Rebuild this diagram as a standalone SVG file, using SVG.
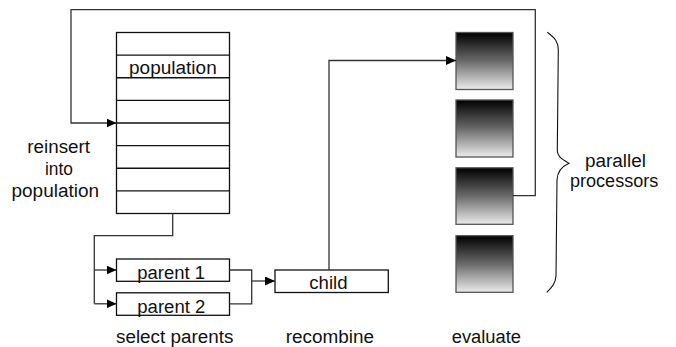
<svg xmlns="http://www.w3.org/2000/svg" width="676" height="347" viewBox="0 0 676 347">
<defs>
  <linearGradient id="proc" x1="0" y1="0" x2="0" y2="1">
    <stop offset="0" stop-color="#000"/>
    <stop offset="0.5" stop-color="#6a6a6a"/>
    <stop offset="1" stop-color="#ececec"/>
  </linearGradient>
  <marker id="arr" viewBox="0 0 10 9" refX="10" refY="4.5" markerWidth="10" markerHeight="9" markerUnits="userSpaceOnUse" orient="auto">
    <path d="M0,0 L10,4.5 L0,9 Z" fill="#000"/>
  </marker>
</defs>
<style>
  text { font-family: "Liberation Sans", Arial, sans-serif; font-size: 18px; fill: #111; }
  .box { fill: #fff; stroke: #111; stroke-width: 1.3; }
  .row { stroke: #111; stroke-width: 1.3; }
  .proc { fill: url(#proc); stroke: #555; stroke-width: 1.3; }
  .conn { fill: none; stroke: #333; stroke-width: 1.3; }
  .brace { fill: none; stroke: #111; stroke-width: 1.1; }
</style>

<g id="population">
  <rect class="box" x="116.5" y="32.5" width="113" height="181"/>
  <line class="row" x1="116.5" y1="55.1" x2="229.5" y2="55.1"/>
  <line class="row" x1="116.5" y1="77.75" x2="229.5" y2="77.75"/>
  <line class="row" x1="116.5" y1="100.4" x2="229.5" y2="100.4"/>
  <line class="row" x1="116.5" y1="123" x2="229.5" y2="123"/>
  <line class="row" x1="116.5" y1="145.6" x2="229.5" y2="145.6"/>
  <line class="row" x1="116.5" y1="168.25" x2="229.5" y2="168.25"/>
  <line class="row" x1="116.5" y1="190.9" x2="229.5" y2="190.9"/>
  <text x="129" y="74" textLength="87.7" lengthAdjust="spacingAndGlyphs">population</text>
</g>

<g id="reinsert-label">
  <text x="27.3" y="153.3" textLength="62.7" lengthAdjust="spacingAndGlyphs">reinsert</text>
  <text x="45" y="175.3" textLength="28" lengthAdjust="spacingAndGlyphs">into</text>
  <text x="11.5" y="197.3" textLength="87.5" lengthAdjust="spacingAndGlyphs">population</text>
</g>

<g id="parent1">
  <rect class="box" x="116.5" y="259" width="113" height="22.3"/>
  <text x="137.3" y="278.5" textLength="67.7" lengthAdjust="spacingAndGlyphs">parent 1</text>
</g>

<g id="parent2">
  <rect class="box" x="116.5" y="292.8" width="113" height="22.5"/>
  <text x="137.3" y="312.5" textLength="68" lengthAdjust="spacingAndGlyphs">parent 2</text>
</g>

<g id="child">
  <rect class="box" x="275" y="270" width="113.3" height="22.5"/>
  <text x="309.3" y="289.3" textLength="38.3" lengthAdjust="spacingAndGlyphs">child</text>
</g>

<g id="processor1"><rect class="proc" x="456" y="32.5" width="57" height="57"/></g>
<g id="processor2"><rect class="proc" x="456" y="100" width="57" height="57"/></g>
<g id="processor3"><rect class="proc" x="456" y="167.8" width="57" height="56.5"/></g>
<g id="processor4"><rect class="proc" x="456" y="235.7" width="57" height="56.6"/></g>

<g id="brace">
  <path class="brace" d="M547.3,32.3 C555,38 558.3,42 558.3,50 L557.3,150 C557.3,157 563,160 569,163.3 C563,166 557.3,170 557,180 L556,276 C555.5,284 551,288 546.7,292.3"/>
  <text x="585" y="166.5" textLength="61" lengthAdjust="spacingAndGlyphs">parallel</text>
  <text x="570" y="186.5" textLength="88.3" lengthAdjust="spacingAndGlyphs">processors</text>
</g>

<g id="stage-labels">
  <text x="116" y="342.5" textLength="117.3" lengthAdjust="spacingAndGlyphs">select parents</text>
  <text x="285.7" y="342.5" textLength="88.3" lengthAdjust="spacingAndGlyphs">recombine</text>
  <text x="451.7" y="342.5" textLength="69.3" lengthAdjust="spacingAndGlyphs">evaluate</text>
</g>

<g id="connectors">
  <path class="conn" d="M172.7,213.5 V235.7 H94.3 V303.8"/>
  <path class="conn" marker-end="url(#arr)" d="M94.3,270 H116.5"/>
  <path class="conn" marker-end="url(#arr)" d="M94.3,303.8 H116.5"/>
  <path class="conn" d="M229.5,270 H251.7 V303.8 H229.5"/>
  <path class="conn" marker-end="url(#arr)" d="M251.7,281 H275"/>
  <path class="conn" marker-end="url(#arr)" d="M329,270 V60.5 H456"/>
  <path class="conn" marker-end="url(#arr)" d="M513,195.7 H535.3 V9.7 H71 V123 H116.5"/>
</g>
</svg>
